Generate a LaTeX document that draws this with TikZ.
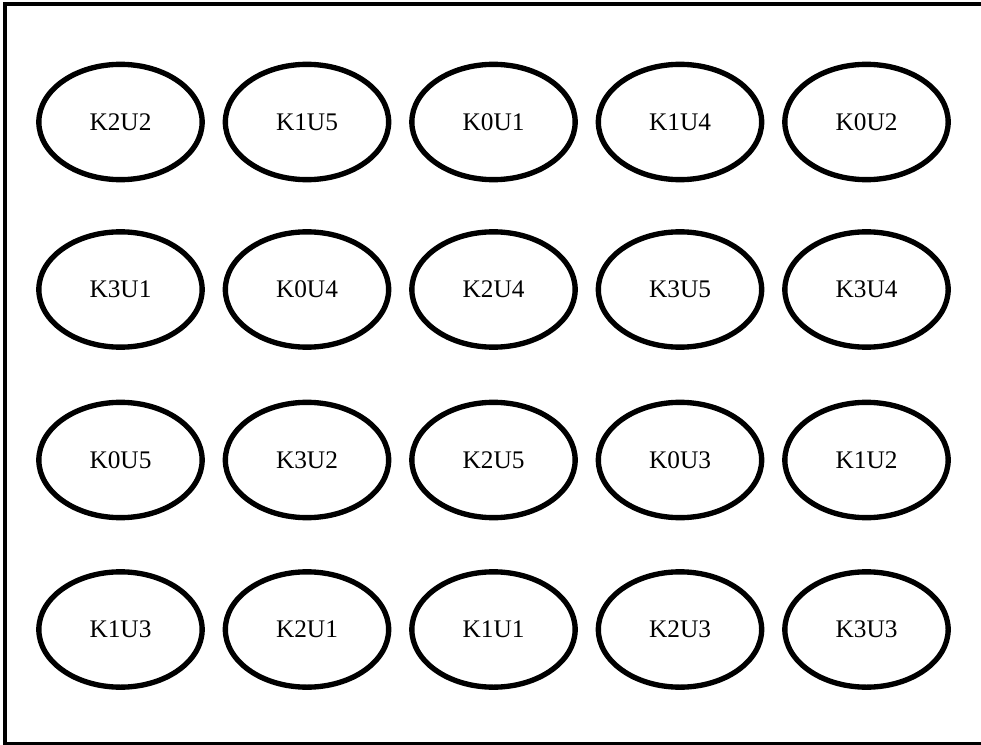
\documentclass[tikz,border=0pt]{standalone}
\usepackage{fontspec}
\setmainfont{Liberation Serif}
\usetikzlibrary{shapes.geometric}
\begin{document}
\begin{tikzpicture}[x=0.75pt,y=-0.75pt,
  cell/.style={ellipse,draw=black,line width=4pt,minimum width=122.5pt,minimum height=86.5pt,inner sep=0pt,font=\fontsize{19}{22}\selectfont},
  frame/.style={draw=black,line width=3pt}]
\useasboundingbox (0,0) rectangle (981,745);
\fill[white] (0,0) rectangle (981,745);
\draw[frame] (981,4) -- (5,4) -- (5,743.5) -- (981,743.5);
\foreach \lab [count=\i from 0] in {K2U2,K1U5,K0U1,K1U4,K0U2,K3U1,K0U4,K2U4,K3U5,K3U4,K0U5,K3U2,K2U5,K0U3,K1U2,K1U3,K2U1,K1U1,K2U3,K3U3}{
  \pgfmathtruncatemacro{\c}{mod(\i,5)}
  \pgfmathtruncatemacro{\r}{int(\i/5)}
  \pgfmathsetmacro{\xx}{120.5+186.5*\c}
  \pgfmathsetmacro{\yy}{{122,289.5,460,629.5}[\r]}
  \node[cell] (n\lab) at (\xx,\yy) {\lab};
}
\end{tikzpicture}
\end{document}
